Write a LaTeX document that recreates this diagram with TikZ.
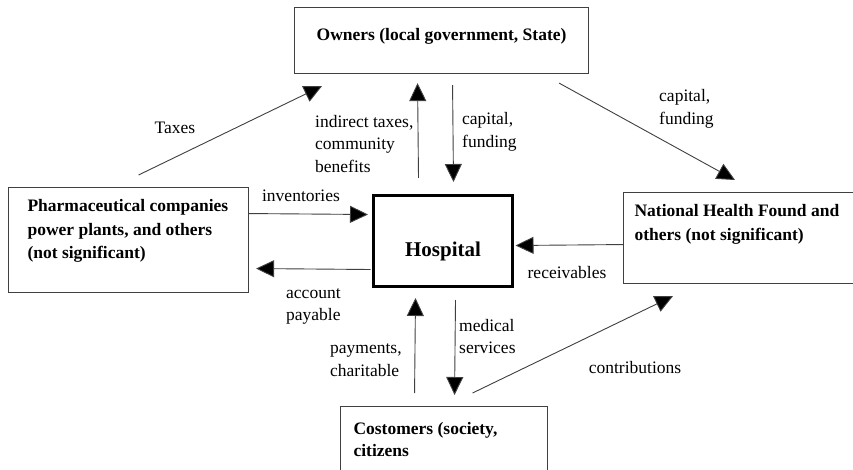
\documentclass[tikz,border=0pt]{standalone}
\usepackage{fontspec}
\setmainfont{Liberation Serif}
\usetikzlibrary{arrows.meta}
\begin{document}
\begin{tikzpicture}[x=1pt,y=-1pt,
  box/.style={draw=black!75, line width=1.1pt, inner sep=0pt, anchor=north west},
  hbox/.style={draw=black, line width=3pt, inner sep=0pt, anchor=north west},
  flow/.style={draw=black!75, line width=0.9pt, -{Triangle[length=18pt,width=17pt,fill=black]}},
  lbl/.style={inner sep=0pt, font=\fontsize{17.5}{22.5}\selectfont, align=left},
  btxt/.style={font=\bfseries\fontsize{17.5}{23.5}\selectfont}]
\useasboundingbox (0,0) rectangle (853,470);
\fill[white] (0,0) rectangle (853,470);

% boxes
\node[box, btxt] (own) at (294,7) {\parbox[c][66pt][t]{294pt}{\centering\rule{0pt}{33pt}Owners (local government, State)}};
\node[box, btxt] (ph) at (8,187) {\parbox[c][105pt][t]{240pt}{\leftskip=19pt\rule{0pt}{24pt}Pharmaceutical companies\\power plants, and others\\(not significant)}};
\node[box, btxt] (nhf) at (623,192) {\parbox[c][91pt][t]{240pt}{\leftskip=11pt\rule{0pt}{24pt}National Health Found and\\others (not significant)}};
\node[hbox, font=\bfseries\fontsize{21}{25}\selectfont] (hosp) at (372,194) {\parbox[c][91pt][t]{139pt}{\centering\rule{0pt}{61pt}Hospital}};
\node[box, font=\bfseries\fontsize{17.5}{22}\selectfont] (cus) at (340,406) {\parbox[c][90pt][t]{207pt}{\leftskip=13pt\rule{0pt}{28pt}Costomers (society,\\citizens}};

% connectors
\draw[flow] ([shift={(10,-12)}]ph.north) -- ([shift={(28,12)}]own.south west);
\draw[flow] ([shift={(-24.5,-16)}]hosp.north) -- ([shift={(-24,9)}]own.south);
\draw[flow] ([shift={(11,11)}]own.south) -- ([shift={(10.5,-12)}]hosp.north);
\draw[flow] ([shift={(-30,9)}]own.south east) -- ([shift={(112,-12)}]nhf.north west);
\draw[flow] ([shift={(0,-26.5)}]ph.east) -- ([shift={(-4,-26.5)}]hosp.west);
\draw[flow] ([shift={(-1.5,28.5)}]hosp.west) -- ([shift={(7,28.5)}]ph.east);
\draw[flow] ([shift={(0,6.5)}]nhf.west) -- ([shift={(1.5,4.5)}]hosp.east);
\draw[flow] ([shift={(-29.5,-13)}]cus.north) -- ([shift={(-27.5,10)}]hosp.south);
\draw[flow] ([shift={(12.5,12)}]hosp.south) -- ([shift={(10.5,-11)}]cus.north);
\draw[flow] ([shift={(28.5,-13)}]cus.north) -- ([shift={(50,12)}]nhf.south west);

% labels
\node[lbl] (tTax) at (175,128) {Taxes};
\node[lbl, anchor=west] (tInd) at (315,144) {indirect taxes,\\community\\benefits};
\node[lbl, anchor=west] (tCap1) at (462,132) {capital,\\funding};
\node[lbl, anchor=west] (tCap2) at (659,109) {capital,\\funding};
\node[lbl] (tInv) at (301,196) {inventories};
\node[lbl, anchor=west] (tAcc) at (286,306.5) {account\\payable};
\node[lbl] (tRec) at (567,273) {receivables};
\node[lbl, anchor=west] (tPay) at (330,360) {payments,\\charitable};
\node[lbl, anchor=west] (tMed) at (459,336.5) {medical\\services};
\node[lbl] (tCon) at (635,368) {contributions};
\end{tikzpicture}
\end{document}
